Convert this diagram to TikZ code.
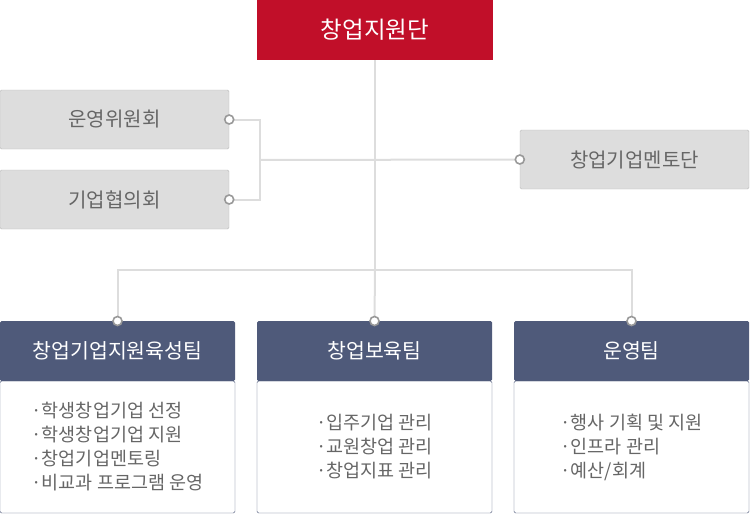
\documentclass[tikz,border=0pt]{standalone}
\usepackage{fontspec}
\setmainfont{Noto Sans CJK KR}
\usetikzlibrary{positioning}
\definecolor{hqred}{HTML}{C10F29}
\definecolor{teamblue}{HTML}{4F5A7A}
\definecolor{boxgrey}{HTML}{DDDDDD}
\definecolor{edgegrey}{HTML}{BBBBBB}
\definecolor{linegrey}{HTML}{DDDDDD}
\definecolor{knobgrey}{HTML}{999999}
\definecolor{txtgrey}{HTML}{666666}

\begin{document}
\begin{tikzpicture}[x=1pt, y=-1pt,
    hq/.style={fill=hqred, text=white, inner sep=0pt, minimum width=236pt, minimum height=60pt, font=\fontsize{23.5}{26}\selectfont},
    side/.style={fill=boxgrey, draw=edgegrey, rounded corners=1.5pt, inner sep=0pt, minimum width=229pt, minimum height=59pt, text=txtgrey, font=\fontsize{20}{24}\selectfont},
    team/.style={fill=teamblue, rounded corners=1.5pt, text=white, inner sep=0pt, outer sep=0pt, minimum width=235pt, minimum height=60pt, font=\fontsize{20.5}{24}\selectfont},
    duty/.style={draw=teamblue, fill=white, rounded corners=1.5pt, inner sep=0pt, outer sep=0pt, minimum width=235pt, minimum height=132pt, align=left, text=txtgrey, font=\fontsize{18.5}{24}\selectfont},
    link/.style={draw=linegrey, line width=2pt},
    knob/.style={circle, draw=knobgrey, fill=white, line width=1.6pt, inner sep=0pt, minimum size=9pt}]
      \useasboundingbox (0,0) rectangle (750,514);
      \node[hq] (hq) at (375,30) {창업지원단};
      \node[side] (ops) at (114.5,119.5) {운영위원회};
      \node[side] (council) at (114.5,199.5) {기업협의회};
      \node[side] (mentor) at (634.5,159.5) {창업기업멘토단};
      \node[duty] (d1) at (117.5,447) {·학생창업기업 선정\\·학생창업기업 지원\\·창업기업멘토링\\·비교과 프로그램 운영};
      \node[duty] (d2) at (374.5,447) {·입주기업 관리\\·교원창업 관리\\·창업지표 관리};
      \node[duty] (d3) at (631.5,447) {·행사 기획 및 지원\\·인프라 관리\\·예산/회계};
      \node[team, above=0pt of d1] (t1) {창업기업지원육성팀};
      \node[team, above=0pt of d2] (t2) {창업보육팀};
      \node[team, above=0pt of d3] (t3) {운영팀};
      \coordinate (bus) at (375,270);
      \coordinate (brk) at (260,160);
      \draw[link] (hq.south) -- (bus);
      \draw[link] (ops.east) -| (brk) |- (council.east);
      \draw[link] (brk) -- (mentor.west);
      \draw[link] (t1.north) |- (bus) -| (t3.north);
      \draw[link] (bus) -- (t2.north);
      \node[knob] at (ops.east) {};
      \node[knob] at (council.east) {};
      \node[knob] at (mentor.west) {};
      \node[knob] at (t1.north) {};
      \node[knob] at (t2.north) {};
      \node[knob] at (t3.north) {};
    \end{tikzpicture}
\end{document}
